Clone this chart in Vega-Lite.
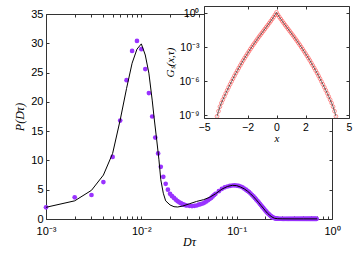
{
"$schema": "https://vega.github.io/schema/vega-lite/v6.json",
"width": 286, "height": 205, "autosize": "none",
"padding": {"left": 46, "top": 14, "right": 29, "bottom": 36},
"background": "white",
"config": {"view": {"stroke": null}, "axis": {"grid": false, "labelFont": "Liberation Sans", "labelFontSize": 11, "labelColor": "#000", "titleFont": "Liberation Serif", "titleFontStyle": "italic", "titleFontWeight": "normal", "titleFontSize": 12, "titleColor": "#000", "domainColor": "#333", "tickColor": "#333", "tickSize": -3, "labelOverlap": false, "labelFlush": false}},
"datasets": {
"pts": [
{"x":0.001,"y":2.0},{"x":0.002,"y":3.7},{"x":0.003,"y":4.1},{"x":0.004,"y":6.3},{"x":0.005,"y":10.6},{"x":0.006,"y":16.8},{"x":0.007,"y":23.7},{"x":0.008,"y":28.7},{"x":0.009,"y":30.4},{"x":0.010,"y":29.0},
{"x":0.011,"y":25.6},{"x":0.012,"y":21.5},{"x":0.013,"y":17.5},{"x":0.014,"y":13.9},{"x":0.015,"y":11.2},{"x":0.016,"y":8.9},{"x":0.017,"y":7.2},{"x":0.018,"y":6.0},{"x":0.019,"y":5.0},{"x":0.020,"y":4.3},
{"x":0.021,"y":3.9},{"x":0.022,"y":3.6},{"x":0.023,"y":3.3},{"x":0.024,"y":3.05},{"x":0.025,"y":2.85},{"x":0.026,"y":2.7},{"x":0.027,"y":2.55},{"x":0.028,"y":2.45},{"x":0.029,"y":2.35},{"x":0.030,"y":2.3},
{"x":0.032,"y":2.25},{"x":0.034,"y":2.2},{"x":0.036,"y":2.25},{"x":0.038,"y":2.3},{"x":0.040,"y":2.45},{"x":0.042,"y":2.55},{"x":0.044,"y":2.65},{"x":0.046,"y":2.8},{"x":0.048,"y":3.0},{"x":0.050,"y":3.2},
{"x":0.052,"y":3.4},{"x":0.054,"y":3.6},{"x":0.056,"y":3.85},{"x":0.058,"y":4.1},{"x":0.060,"y":4.3},{"x":0.065,"y":4.75},{"x":0.070,"y":5.15},{"x":0.075,"y":5.4},{"x":0.080,"y":5.55},{"x":0.085,"y":5.65},
{"x":0.090,"y":5.72},{"x":0.095,"y":5.75},{"x":0.100,"y":5.7},{"x":0.105,"y":5.65},{"x":0.110,"y":5.55},{"x":0.115,"y":5.4},{"x":0.120,"y":5.2},{"x":0.125,"y":5.0},{"x":0.130,"y":4.8},{"x":0.135,"y":4.6},
{"x":0.140,"y":4.35},{"x":0.145,"y":4.1},{"x":0.150,"y":3.85},{"x":0.155,"y":3.6},{"x":0.160,"y":3.35},{"x":0.165,"y":3.1},{"x":0.170,"y":2.85},{"x":0.175,"y":2.6},{"x":0.180,"y":2.35},{"x":0.185,"y":2.1},
{"x":0.190,"y":1.9},{"x":0.195,"y":1.65},{"x":0.200,"y":1.45},{"x":0.205,"y":1.25},{"x":0.210,"y":1.05},{"x":0.215,"y":0.9},{"x":0.220,"y":0.75},{"x":0.225,"y":0.6},{"x":0.230,"y":0.45},{"x":0.235,"y":0.35},
{"x":0.240,"y":0.25},{"x":0.245,"y":0.2},{"x":0.250,"y":0.15},{"x":0.255,"y":0.1},{"x":0.260,"y":0.08},{"x":0.265,"y":0.06},{"x":0.270,"y":0.05},{"x":0.280,"y":0.04},{"x":0.290,"y":0.04},{"x":0.300,"y":0.03},
{"x":0.31,"y":0.03},{"x":0.32,"y":0.03},{"x":0.33,"y":0.03},{"x":0.34,"y":0.03},{"x":0.35,"y":0.03},{"x":0.36,"y":0.03},{"x":0.37,"y":0.03},{"x":0.38,"y":0.03},{"x":0.39,"y":0.03},{"x":0.40,"y":0.03},
{"x":0.41,"y":0.03},{"x":0.42,"y":0.03},{"x":0.43,"y":0.03},{"x":0.44,"y":0.03},{"x":0.45,"y":0.03},{"x":0.46,"y":0.03},{"x":0.47,"y":0.03},{"x":0.48,"y":0.03},{"x":0.49,"y":0.03},{"x":0.50,"y":0.03},
{"x":0.51,"y":0.03},{"x":0.52,"y":0.03},{"x":0.53,"y":0.03},{"x":0.54,"y":0.03},{"x":0.55,"y":0.03},{"x":0.56,"y":0.03},{"x":0.57,"y":0.03},{"x":0.58,"y":0.03},{"x":0.59,"y":0.03},{"x":0.60,"y":0.03},
{"x":0.61,"y":0.03},{"x":0.62,"y":0.03},{"x":0.63,"y":0.03},{"x":0.64,"y":0.03},{"x":0.65,"y":0.03},{"x":0.66,"y":0.03},{"x":0.67,"y":0.03},{"x":0.68,"y":0.03},{"x":0.69,"y":0.03}
],
"fit": [
{"x":0.001,"y":2.0},{"x":0.002,"y":3.1},{"x":0.003,"y":4.9},{"x":0.004,"y":7.5},{"x":0.005,"y":11.2},{"x":0.006,"y":16.9},{"x":0.007,"y":22.3},{"x":0.008,"y":26.6},{"x":0.009,"y":29.0},{"x":0.010,"y":29.9},
{"x":0.011,"y":28.0},{"x":0.012,"y":24.9},{"x":0.013,"y":20.3},{"x":0.0137,"y":16.9},{"x":0.0145,"y":13.5},{"x":0.0153,"y":10.1},{"x":0.016,"y":6.7},{"x":0.017,"y":4.4},{"x":0.018,"y":3.1},{"x":0.020,"y":2.4},
{"x":0.022,"y":2.1},{"x":0.024,"y":2.05},{"x":0.027,"y":2.2},{"x":0.032,"y":2.6},{"x":0.038,"y":3.0},{"x":0.045,"y":3.3},{"x":0.052,"y":3.7},{"x":0.060,"y":4.3},{"x":0.070,"y":5.1},{"x":0.080,"y":5.55},
{"x":0.090,"y":5.75},{"x":0.100,"y":5.7},{"x":0.110,"y":5.45},{"x":0.120,"y":5.15},{"x":0.130,"y":4.75},{"x":0.140,"y":4.3},{"x":0.150,"y":3.8},{"x":0.160,"y":3.3},{"x":0.170,"y":2.8},{"x":0.180,"y":2.3},
{"x":0.190,"y":1.85},{"x":0.200,"y":1.4},{"x":0.210,"y":1.0},{"x":0.220,"y":0.7},{"x":0.230,"y":0.45},{"x":0.240,"y":0.25},{"x":0.250,"y":0.12},{"x":0.270,"y":0.05},{"x":0.300,"y":0.03},{"x":0.400,"y":0.02},
{"x":0.500,"y":0.02},{"x":0.700,"y":0.02}
],
"gs": [
{"x":-4.1,"g":7.94e-10},{"x":-4.0,"g":2.24e-9},{"x":-3.9,"g":5.62e-9},{"x":-3.8,"g":1.2e-8},{"x":-3.7,"g":2.34e-8},{"x":-3.6,"g":4.47e-8},{"x":-3.5,"g":8.51e-8},{"x":-3.4,"g":1.58e-7},{"x":-3.3,"g":2.95e-7},{"x":-3.2,"g":5.37e-7},
{"x":-3.1,"g":9.55e-7},{"x":-3.0,"g":1.7e-6},{"x":-2.9,"g":3.02e-6},{"x":-2.8,"g":5.25e-6},{"x":-2.7,"g":8.91e-6},{"x":-2.6,"g":1.51e-5},{"x":-2.5,"g":2.51e-5},{"x":-2.4,"g":4.17e-5},{"x":-2.3,"g":6.92e-5},{"x":-2.2,"g":1.12e-4},
{"x":-2.1,"g":1.78e-4},{"x":-2.0,"g":2.82e-4},{"x":-1.9,"g":4.47e-4},{"x":-1.8,"g":7.08e-4},{"x":-1.7,"g":1.1e-3},{"x":-1.6,"g":1.7e-3},{"x":-1.5,"g":2.57e-3},{"x":-1.4,"g":3.89e-3},{"x":-1.3,"g":5.89e-3},{"x":-1.2,"g":8.91e-3},
{"x":-1.1,"g":0.0132},{"x":-1.0,"g":0.0195},{"x":-0.9,"g":0.0288},{"x":-0.8,"g":0.0427},{"x":-0.7,"g":0.0631},{"x":-0.6,"g":0.0933},{"x":-0.5,"g":0.138},{"x":-0.4,"g":0.209},{"x":-0.3,"g":0.316},{"x":-0.2,"g":0.479},
{"x":-0.1,"g":0.759},{"x":0.0,"g":1.26},
{"x":0.1,"g":0.759},{"x":0.2,"g":0.479},{"x":0.3,"g":0.316},{"x":0.4,"g":0.209},{"x":0.5,"g":0.138},{"x":0.6,"g":0.0933},{"x":0.7,"g":0.0631},{"x":0.8,"g":0.0427},{"x":0.9,"g":0.0288},{"x":1.0,"g":0.0195},
{"x":1.1,"g":0.0132},{"x":1.2,"g":8.91e-3},{"x":1.3,"g":5.89e-3},{"x":1.4,"g":3.89e-3},{"x":1.5,"g":2.57e-3},{"x":1.6,"g":1.7e-3},{"x":1.7,"g":1.1e-3},{"x":1.8,"g":7.08e-4},{"x":1.9,"g":4.47e-4},{"x":2.0,"g":2.82e-4},
{"x":2.1,"g":1.78e-4},{"x":2.2,"g":1.12e-4},{"x":2.3,"g":6.92e-5},{"x":2.4,"g":4.17e-5},{"x":2.5,"g":2.51e-5},{"x":2.6,"g":1.51e-5},{"x":2.7,"g":8.91e-6},{"x":2.8,"g":5.25e-6},{"x":2.9,"g":3.02e-6},{"x":3.0,"g":1.7e-6},
{"x":3.1,"g":9.55e-7},{"x":3.2,"g":5.37e-7},{"x":3.3,"g":2.95e-7},{"x":3.4,"g":1.58e-7},{"x":3.5,"g":8.51e-8},{"x":3.6,"g":4.47e-8},{"x":3.7,"g":2.34e-8},{"x":3.8,"g":1.2e-8},{"x":3.9,"g":5.62e-9},{"x":4.0,"g":2.24e-9},
{"x":4.1,"g":7.94e-10}
]
},
"layer": [
{"data": {"name": "pts"},
 "mark": {"type": "circle", "size": 22, "color": "#9933ff", "opacity": 1},
 "encoding": {
  "x": {"field": "x", "type": "quantitative", "scale": {"type": "log", "domain": [0.001, 1]},
    "axis": {"orient": "bottom", "values": [0.001,0.002,0.003,0.004,0.005,0.006,0.007,0.008,0.009,0.01,0.02,0.03,0.04,0.05,0.06,0.07,0.08,0.09,0.1,0.2,0.3,0.4,0.5,0.6,0.7,0.8,0.9,1],
      "labelExpr": "datum.value == 0.001 ? '10⁻³' : datum.value == 0.01 ? '10⁻²' : datum.value == 0.1 ? '10⁻¹' : datum.value == 1 ? '10⁰' : ''",
      "labelPadding": 9, "title": "Dτ", "titlePadding": 0}},
  "y": {"field": "y", "type": "quantitative", "scale": {"domain": [0, 35]},
    "axis": {"orient": "left", "values": [0,5,10,15,20,25,30,35], "labelPadding": 6, "title": "P(Dτ)", "titlePadding": 4}}
 }},
{"data": {"name": "fit"},
 "mark": {"type": "line", "color": "#000", "strokeWidth": 1},
 "encoding": {
  "x": {"field": "x", "type": "quantitative", "scale": {"type": "log", "domain": [0.001, 1]},
    "axis": {"orient": "top", "values": [0.001,0.002,0.003,0.004,0.005,0.006,0.007,0.008,0.009,0.01,0.02,0.03,0.04,0.05,0.06,0.07,0.08,0.09,0.1,0.2,0.3,0.4,0.5,0.6,0.7,0.8,0.9,1], "labels": false, "title": null}},
  "y": {"field": "y", "type": "quantitative", "scale": {"domain": [0, 35]},
    "axis": {"orient": "right", "values": [0,5,10,15,20,25,30,35], "labels": false, "title": null}}
 }},
{"data": {"values": [{}]},
 "mark": {"type": "rect", "fill": "white", "stroke": null},
 "encoding": {
  "x": {"datum": -5, "type": "quantitative", "scale": {"domain": [-5, 5], "range": [158, 303]},
    "axis": {"orient": "bottom", "offset": -101, "zindex": 1, "values": [-5,-2,0,2,5], "labelFontSize": 10.5, "labelPadding": 7, "title": "x", "titleFontSize": 11, "titlePadding": 0}},
  "x2": {"datum": 5},
  "y": {"datum": 4.6, "type": "quantitative", "scale": {"type": "log", "domain": [5.6e-10, 4.6], "range": [104, -8]},
    "axis": {"orient": "left", "offset": -158, "zindex": 1, "values": [1, 0.001, 1e-6, 1e-9],
      "labelExpr": "datum.value >= 0.5 ? '10⁰' : datum.value >= 5e-4 ? '10⁻³' : datum.value >= 5e-7 ? '10⁻⁶' : '10⁻⁹'",
      "labelFontSize": 10.5, "labelPadding": 8, "title": "Gₛ(x,τ)", "titleFontSize": 11, "titlePadding": 3}},
  "y2": {"datum": 5.6e-10}
 }},
{"data": {"name": "gs"},
 "mark": {"type": "point", "shape": "circle", "filled": false, "color": "#ff3b3b", "size": 14, "strokeWidth": 0.7, "opacity": 0.8},
 "encoding": {
  "x": {"field": "x", "type": "quantitative", "scale": {"domain": [-5, 5], "range": [158, 303]},
    "axis": {"orient": "top", "offset": 8, "zindex": 1, "values": [-5,-2,0,2,5], "labels": false, "title": null}},
  "y": {"field": "g", "type": "quantitative", "scale": {"type": "log", "domain": [5.6e-10, 4.6], "range": [104, -8]},
    "axis": {"orient": "right", "offset": 17, "zindex": 1, "values": [1, 0.001, 1e-6, 1e-9], "labels": false, "title": null}}
 }},
{"data": {"name": "gs"},
 "mark": {"type": "line", "color": "#444", "strokeWidth": 0.8},
 "encoding": {
  "x": {"field": "x", "type": "quantitative", "scale": {"domain": [-5, 5], "range": [158, 303]}, "axis": null},
  "y": {"field": "g", "type": "quantitative", "scale": {"type": "log", "domain": [5.6e-10, 4.6], "range": [104, -8]}, "axis": null}
 }}
],
"resolve": {"scale": {"x": "independent", "y": "independent"}, "axis": {"x": "independent", "y": "independent"}}
}
